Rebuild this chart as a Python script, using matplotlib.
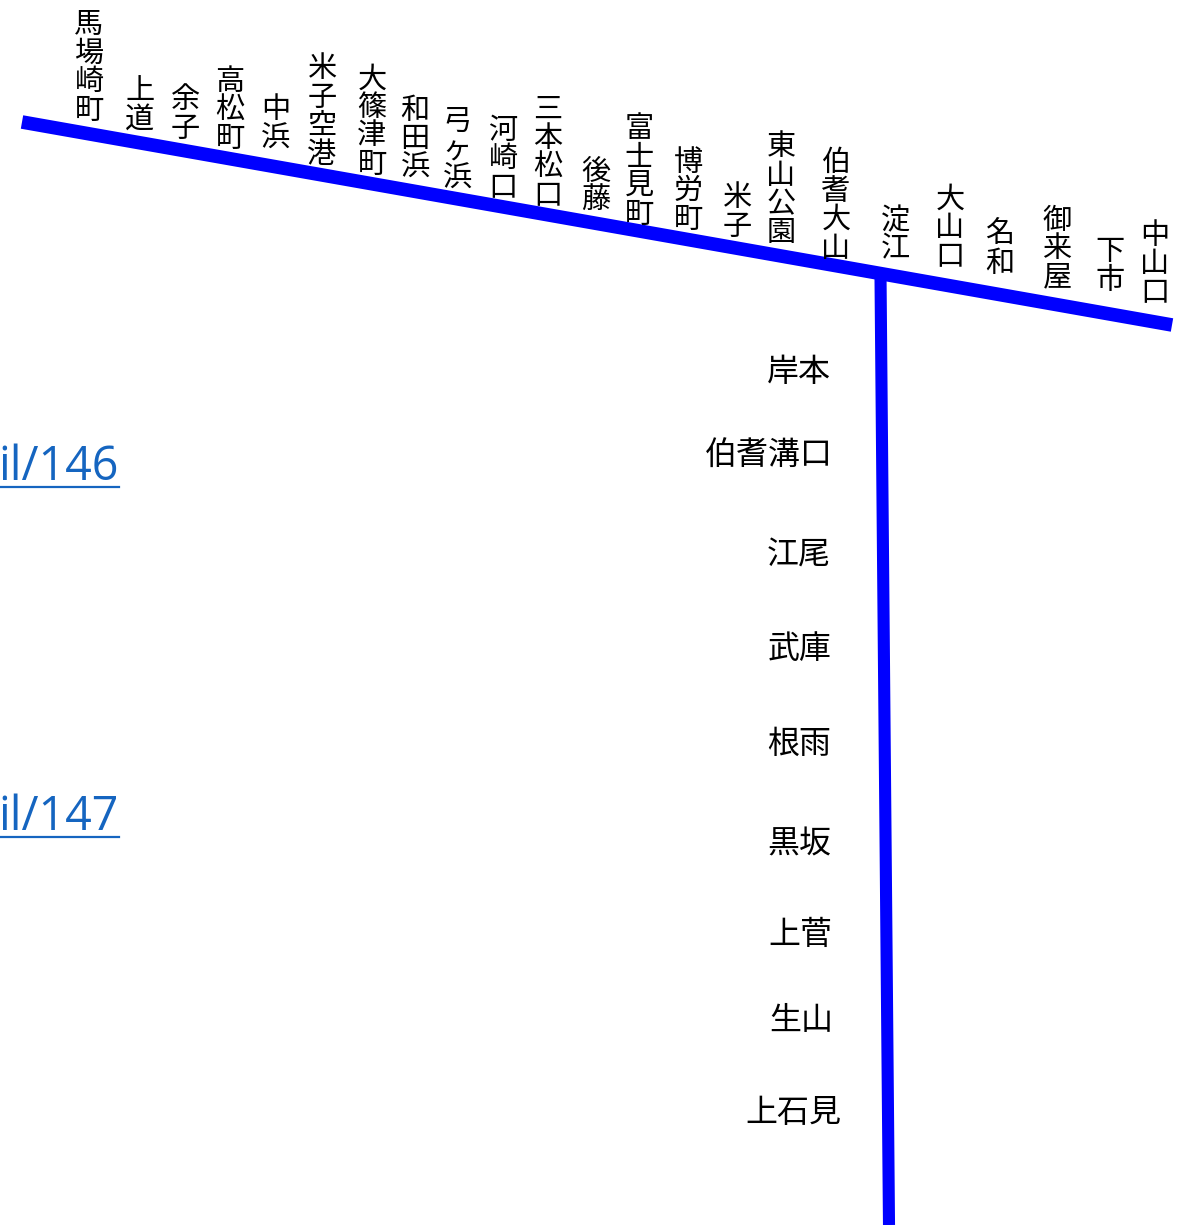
import matplotlib
matplotlib.use("Agg")
import matplotlib.pyplot as plt

plt.rcParams['font.family'] = ['Noto Sans CJK JP', 'DejaVu Sans']

W, H = 1178, 1225
main_line_x = [22, 1172]
main_line_y = [122, 325]
branch_x = [880.5, 889]
branch_y = [275, 1225]

top_names = ["馬場崎町","上道","余子","高松町","中浜","米子空港","大篠津町","和田浜","弓ヶ浜","河崎口","三本松口","後藤","富士見町","博労町","米子","東山公園","伯耆大山","淀江","大山口","名和","御来屋","下市","中山口"]
top_x = [89,140,185,230,276,322,372,415,457,503,548,596,639,688,737,781,836,895,950,1000,1057,1110,1155]
top_bottom = [125,134,143,153,153,169,179,182,193,202,210,215,229,234,241,247,263,264,271,278,292,295,307]

branch_names = ["岸本","伯耆溝口","江尾","武庫","根雨","黒坂","上菅","生山","上石見"]
branch_right = [831,833,831,832,831,831,832,833,841]
branch_label_y = [372,455,556,649,744,844,935,1021,1113]

link_texts = ["il/146","il/147"]
link_y = [464,814]
underline_y = [487,837]
underline_x = [0,119]

fig = plt.figure(figsize=(W/100, H/100), dpi=100)
ax = fig.add_axes([0,0,1,1])
ax.set_xlim(0, W)
ax.set_ylim(H, 0)
ax.axis('off')

ax.plot(main_line_x, main_line_y, color='#0000ff', lw=9.8, solid_capstyle='butt')
ax.plot(branch_x, branch_y, color='#0000ff', lw=8.7, solid_capstyle='butt')

step = 28.5
top_fs = 21
fs = 23
for name, x, b in zip(top_names, top_x, top_bottom):
    n = len(name)
    for i, ch in enumerate(name):
        y = b - (n - 1 - i) * step - step/2
        ax.text(x, y, ch, fontsize=top_fs, ha='center', va='center', color='black')

for name, r, y in zip(branch_names, branch_right, branch_label_y):
    ax.text(r, y, name, fontsize=fs, ha='right', va='center', color='black')

for t, y, uy in zip(link_texts, link_y, underline_y):
    ax.text(-1.5, y + 3, t, fontsize=33.5, ha='left', va='center', color='#1565c0', family=['Open Sans','DejaVu Sans'])
    ax.plot(underline_x, [uy, uy], color='#1565c0', lw=1.6)

fig.savefig('out.png', dpi=100)
